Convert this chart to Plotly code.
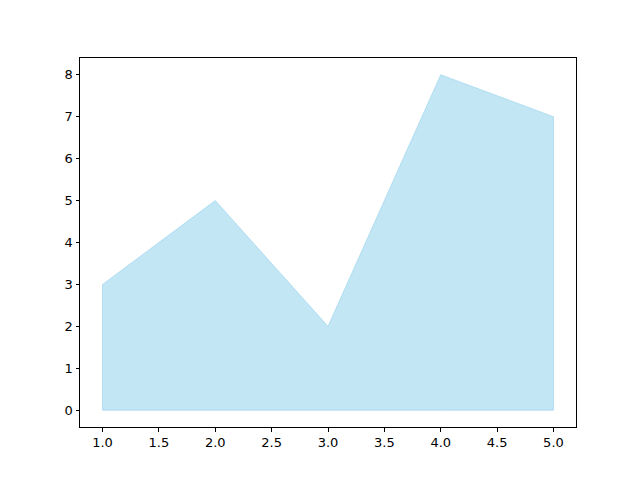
import plotly.graph_objects as go

x_vals = [1, 2, 3, 4, 5]
y_vals = [3, 5, 2, 8, 7]
x_ticks = [1.0, 1.5, 2.0, 2.5, 3.0, 3.5, 4.0, 4.5, 5.0]
y_ticks = [0, 1, 2, 3, 4, 5, 6, 7, 8]

fig = go.Figure()
fig.add_trace(go.Scatter(
    x=x_vals + x_vals[::-1] + [x_vals[0]],
    y=y_vals + [0] * len(x_vals) + [y_vals[0]],
    fill="toself",
    fillcolor="rgba(135,206,235,0.5)",
    line=dict(color="rgba(135,206,235,0.5)", width=1),
    mode="lines",
    hoverinfo="skip",
))

axis_common = dict(
    showgrid=False, zeroline=False, showline=True, linecolor="black", linewidth=1,
    mirror=True, ticks="outside", ticklen=3.5, tickwidth=1, tickcolor="black",
    tickfont=dict(family="DejaVu Sans", size=13, color="black"),
)
fig.update_xaxes(range=[0.8, 5.2], tickvals=x_ticks, tickformat=".1f", **axis_common)
fig.update_yaxes(range=[-0.4, 8.4], tickvals=y_ticks, **axis_common)
fig.update_layout(
    width=632, height=472, showlegend=False,
    plot_bgcolor="white", paper_bgcolor="white",
    margin=dict(l=72, r=64, t=50, b=53),
)
fig.write_html("out.html")
